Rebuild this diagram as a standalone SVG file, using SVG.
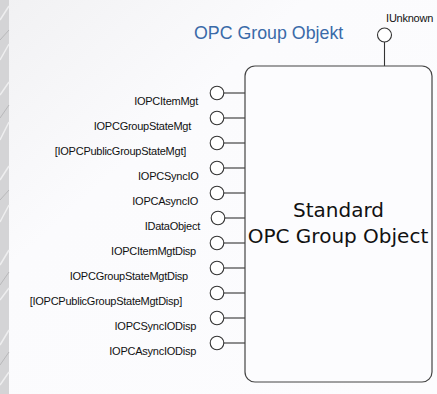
<svg xmlns="http://www.w3.org/2000/svg" width="437" height="394" viewBox="0 0 437 394">
<style>
.lbl{font-family:"Liberation Sans",Arial,sans-serif;font-size:11px;letter-spacing:-0.25px;fill:#111;text-anchor:end}
.pin{fill:#fff;stroke:#333;stroke-width:1.1}
.wire{stroke:#333;stroke-width:1.1;fill:none}
.title{font-family:"Liberation Sans",Arial,sans-serif;font-size:17.8px;fill:#3a6aa8}
.big{font-family:"DejaVu Sans",sans-serif;font-size:20px;fill:#111;text-anchor:middle}
</style>
<defs>
<linearGradient id="bg" x1="0" y1="0" x2="1" y2="1">
<stop offset="0" stop-color="#f1f1f3"/>
<stop offset="0.35" stop-color="#fbfbfd"/>
<stop offset="1" stop-color="#fcfcfe"/>
</linearGradient>
</defs>
<rect x="0" y="0" width="437" height="394" fill="url(#bg)"/>
<g id="marble">
<rect x="0" y="0" width="9" height="394" fill="#d4d4d6"/>
<path d="M0 20 L9 6 M0 60 L9 44 M0 95 L9 82 M0 140 L9 122 M0 180 L9 166 M0 222 L9 205 M0 265 L9 250 M0 300 L9 288 M0 345 L9 330 M0 385 L9 372" stroke="#eeeeef" stroke-width="1.5"/>
<path d="M0 40 L9 30 M0 118 L9 105 M0 200 L9 190 M0 285 L9 272 M0 365 L9 352" stroke="#b8b8ba" stroke-width="1"/>
</g>
<text class="title" x="194" y="39">OPC Group Objekt</text>
<g id="connectors">
<line class="wire" x1="384.5" y1="42" x2="384.5" y2="66"/>
<line class="wire" x1="223.5" y1="93" x2="245" y2="93"/>
<line class="wire" x1="223.5" y1="118" x2="245" y2="118"/>
<line class="wire" x1="223.5" y1="143" x2="245" y2="143"/>
<line class="wire" x1="223.5" y1="168" x2="245" y2="168"/>
<line class="wire" x1="223.5" y1="193" x2="245" y2="193"/>
<line class="wire" x1="223.5" y1="218" x2="245" y2="218"/>
<line class="wire" x1="223.5" y1="243" x2="245" y2="243"/>
<line class="wire" x1="223.5" y1="268" x2="245" y2="268"/>
<line class="wire" x1="223.5" y1="293" x2="245" y2="293"/>
<line class="wire" x1="223.5" y1="318" x2="245" y2="318"/>
<line class="wire" x1="223.5" y1="343" x2="245" y2="343"/>
</g>
<g id="object">
<rect x="245" y="66" width="187" height="316" rx="10" ry="10" fill="#fcfcfe" stroke="#444" stroke-width="1.2"/>
<text class="big" x="338.5" y="217">Standard</text>
<text class="big" x="338" y="243">OPC Group Object</text>
</g>
<g id="IUnknown">
<circle class="pin" cx="384.5" cy="35" r="7"/>
<text class="lbl" x="433" y="21.5">IUnknown</text>
</g>
<g id="IOPCItemMgt"><circle class="pin" cx="217" cy="93" r="6.8"/><text class="lbl" x="198" y="105">IOPCItemMgt</text></g>
<g id="IOPCGroupStateMgt"><circle class="pin" cx="217" cy="118" r="6.8"/><text class="lbl" x="191" y="130">IOPCGroupStateMgt</text></g>
<g id="IOPCPublicGroupStateMgt"><circle class="pin" cx="217" cy="143" r="6.8"/><text class="lbl" x="186" y="155">[IOPCPublicGroupStateMgt]</text></g>
<g id="IOPCSyncIO"><circle class="pin" cx="217" cy="168" r="6.8"/><text class="lbl" x="198.5" y="180">IOPCSyncIO</text></g>
<g id="IOPCAsyncIO"><circle class="pin" cx="217" cy="193" r="6.8"/><text class="lbl" x="198" y="205">IOPCAsyncIO</text></g>
<g id="IDataObject"><circle class="pin" cx="218" cy="218" r="6.8"/><text class="lbl" x="200" y="230">IDataObject</text></g>
<g id="IOPCItemMgtDisp"><circle class="pin" cx="217" cy="243" r="6.8"/><text class="lbl" x="196" y="255">IOPCItemMgtDisp</text></g>
<g id="IOPCGroupStateMgtDisp"><circle class="pin" cx="217" cy="268" r="6.8"/><text class="lbl" x="188" y="280">IOPCGroupStateMgtDisp</text></g>
<g id="IOPCPublicGroupStateMgtDisp"><circle class="pin" cx="217" cy="293" r="6.8"/><text class="lbl" x="182" y="305">[IOPCPublicGroupStateMgtDisp]</text></g>
<g id="IOPCSyncIODisp"><circle class="pin" cx="217" cy="318" r="6.8"/><text class="lbl" x="196" y="330">IOPCSyncIODisp</text></g>
<g id="IOPCAsyncIODisp"><circle class="pin" cx="217" cy="343" r="6.8"/><text class="lbl" x="196" y="355">IOPCAsyncIODisp</text></g>
</svg>
